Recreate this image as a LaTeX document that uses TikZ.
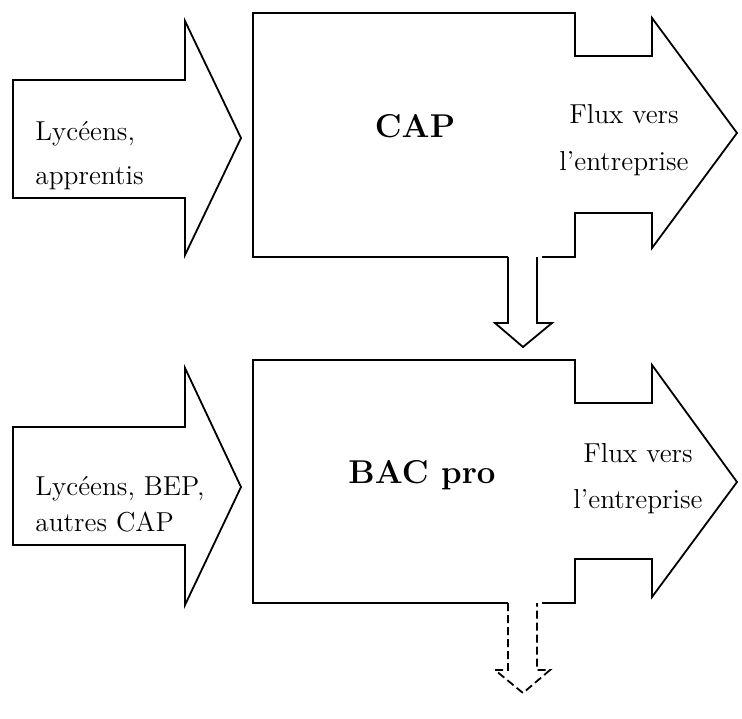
\documentclass[tikz,border=0pt]{standalone}
\usetikzlibrary{positioning}

\begin{document}
\begin{tikzpicture}[x=0.5pt,y=0.5pt]
\tikzstyle{every node}+=[inner sep=0pt]
\tikzstyle{trait}=[black,line width=0.9pt,line join=miter]
\tikzstyle{txt}=[font=\fontsize{13.7}{22}\selectfont]
\tikzstyle{titre}=[font=\fontsize{16.5}{22}\selectfont\bfseries]
\useasboundingbox (0,0) rectangle (742,-718);
% points de depart des fleches vers le bas
\coordinate (capg) at (508,-257);
\coordinate (capd) at (537,-257);
\coordinate (bacg) at (508,-603);
\coordinate (bacd) at (537,-603);
% entree CAP
\draw [trait] (13,-80) -- (185,-80) -- (185,-21) -- (241,-138) -- (185,-255) -- (185,-198) -- (13,-198) -- cycle;
\node [txt,anchor=base west,align=left] (entcap) at (35,-184) {Lycéens,\\apprentis};
% bloc CAP
\draw [trait] (capg) -- (253,-257) -- (253,-13) -- (575,-13) -- (575,-56) -- (652,-56) -- (652,-18) -- (737,-133) -- (652,-248) -- (652,-213) -- (575,-213) -- (575,-257) -- (542,-257);
\node [titre,anchor=base] (cap) at (415,-137) {CAP};
\node [txt,anchor=base,align=center] (fluxcap) at (624,-170) {Flux vers\\[1.5pt]l’entreprise};
% CAP vers BAC pro
\draw [trait] (capg) -- (508,-323) -- (495,-323) -- (523,-347) -- (552,-323) -- (537,-323) -- (capd);
% entree BAC pro
\draw [trait] (13,-427) -- (185,-427) -- (185,-368) -- (241,-487) -- (185,-605) -- (185,-545) -- (13,-545) -- cycle;
\node [txt,anchor=base west,align=left] (entbac) at (35,-531) {Lycéens, BEP,\\[-4pt]autres CAP};
% bloc BAC pro
\draw [trait] (bacg) -- (253,-603) -- (253,-360) -- (575,-360) -- (575,-403) -- (652,-403) -- (652,-365) -- (737,-482) -- (652,-597) -- (652,-559) -- (575,-559) -- (575,-603) -- (542,-603);
\node [titre,anchor=base] (bacpro) at (422,-483) {BAC pro};
\node [txt,anchor=base,align=center] (fluxbac) at (638,-508) {Flux vers\\[1pt]l’entreprise};
% suite (pointilles)
\draw [trait,dash pattern=on 4pt off 2pt] (bacg) -- (508,-670) -- (495,-670) -- (523,-693) -- (550,-670) -- (537,-670) -- (bacd);
\end{tikzpicture}
\end{document}
